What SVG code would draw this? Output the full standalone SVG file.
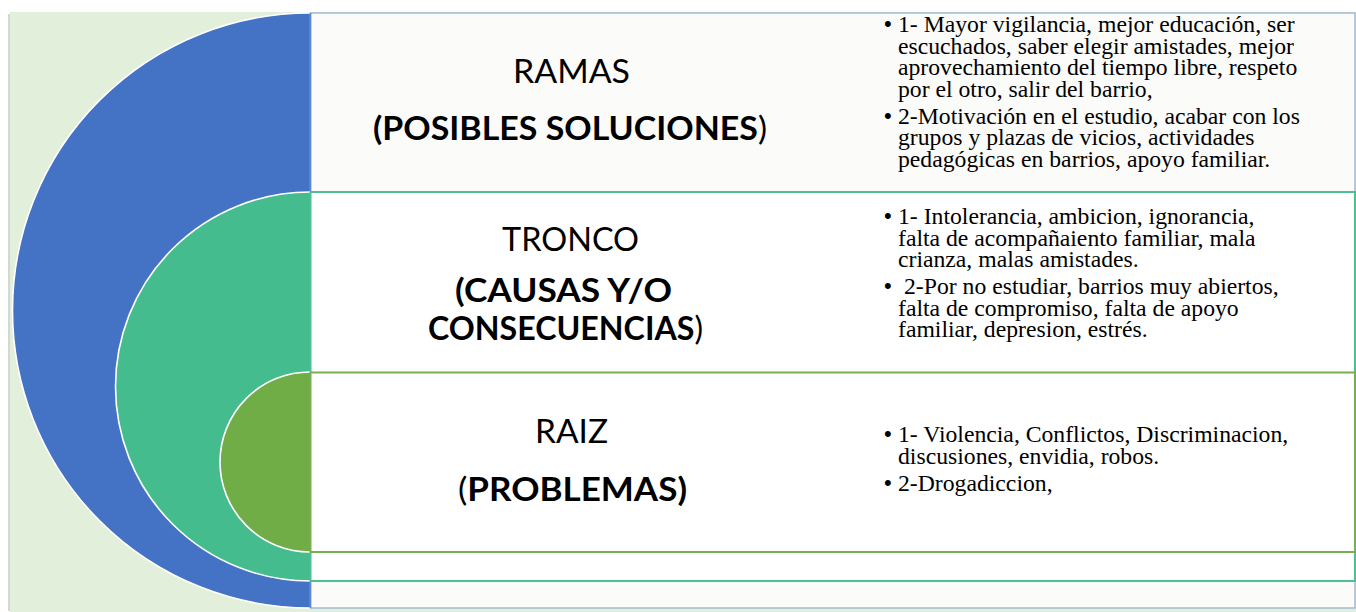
<svg xmlns="http://www.w3.org/2000/svg" width="1356" height="612" viewBox="0 0 1356 612">
<style>
.lbl{font-family:Lato,"Open Sans","Liberation Sans",sans-serif;font-size:32px;fill:#000;text-anchor:middle}
.b{font-weight:bold}
.r{font-weight:normal}
.txt{font-family:"Liberation Serif","Times New Roman",serif;font-size:23.7px;fill:#000}
.bul{font-family:"Liberation Sans",Arial,sans-serif;font-size:22px;fill:#000}
.arc{stroke:#fff;stroke-width:1.6}
</style>
<rect x="10" y="12" width="1346" height="600" fill="#E2EFDA"/>
<line x1="9" y1="14" x2="9" y2="611" stroke="#D4D8D2" stroke-width="2"/>
<g id="connectors"></g>
<g id="ramas">
<path class="arc" d="M310,13 A297.5,297.5 0 0 0 310,608" fill="#4472C4"/>
<rect x="310.5" y="13" width="1044.5" height="595" fill="#FBFBF9" stroke="#A3BAD6" stroke-width="1.5"/>
<line x1="310.5" y1="13" x2="310.5" y2="608" stroke="#5B86CF" stroke-width="1.5"/>
<text class="lbl" x="571.5" y="83" textLength="117" lengthAdjust="spacingAndGlyphs">RAMAS</text>
<text class="lbl" x="570" y="140" textLength="394" lengthAdjust="spacingAndGlyphs"><tspan class="b">(POSIBLES SOLUCIONES</tspan><tspan class="r">)</tspan></text>
<text class="bul" x="884" y="31">•</text>
<text class="bul" x="884" y="122.5">•</text>
<text class="txt">
<tspan x="898" y="32">1- Mayor vigilancia, mejor educación, ser</tspan>
<tspan x="898" y="53.7">escuchados, saber elegir amistades, mejor</tspan>
<tspan x="898" y="75.4">aprovechamiento del tiempo libre, respeto</tspan>
<tspan x="898" y="97.1">por el otro, salir del barrio,</tspan>
<tspan x="898" y="123.5">2-Motivación en el estudio, acabar con los</tspan>
<tspan x="898" y="145.2">grupos y plazas de vicios, actividades</tspan>
<tspan x="898" y="166.9">pedagógicas en barrios, apoyo familiar.</tspan>
</text>
</g>
<g id="tronco">
<path class="arc" d="M310,192 A194.5,194.5 0 0 0 310,581" fill="#45BC8D"/>
<rect x="310.5" y="192" width="1044.5" height="389" fill="#FFFFFF" stroke="#4DBF93" stroke-width="2"/>
<text class="lbl" x="570.5" y="251" textLength="137" lengthAdjust="spacingAndGlyphs">TRONCO</text>
<text class="lbl b" x="563.5" y="302" textLength="217" lengthAdjust="spacingAndGlyphs">(CAUSAS Y/O</text>
<text class="lbl" x="565.5" y="340" textLength="275" lengthAdjust="spacingAndGlyphs"><tspan class="b">CONSECUENCIAS</tspan><tspan class="r">)</tspan></text>
<text class="bul" x="884" y="223">•</text>
<text class="bul" x="884" y="293">•</text>
<text class="txt">
<tspan x="898" y="224">1- Intolerancia, ambicion, ignorancia,</tspan>
<tspan x="898" y="245.7">falta de acompañaiento familiar, mala</tspan>
<tspan x="898" y="267.4">crianza, malas amistades.</tspan>
<tspan x="904" y="294">2-Por no estudiar, barrios muy abiertos,</tspan>
<tspan x="898" y="315.7">falta de compromiso, falta de apoyo</tspan>
<tspan x="898" y="337.4">familiar, depresion, estrés.</tspan>
</text>
</g>
<g id="raiz">
<path class="arc" d="M310,372 A90,90 0 0 0 310,552" fill="#70AD47"/>
<rect x="310.5" y="372.5" width="1044.5" height="179.5" fill="#FFFFFF" stroke="#77B050" stroke-width="2"/>
<text class="lbl" x="571.5" y="443" textLength="73" lengthAdjust="spacingAndGlyphs">RAIZ</text>
<text class="lbl" x="572.5" y="501" textLength="229" lengthAdjust="spacingAndGlyphs"><tspan class="r">(</tspan><tspan class="b">PROBLEMAS)</tspan></text>
<text class="bul" x="884" y="441">•</text>
<text class="bul" x="884" y="490">•</text>
<text class="txt">
<tspan x="898" y="442">1- Violencia, Conflictos, Discriminacion,</tspan>
<tspan x="898" y="463.7">discusiones, envidia, robos.</tspan>
<tspan x="898" y="491">2-Drogadiccion,</tspan>
</text>
</g>
</svg>
